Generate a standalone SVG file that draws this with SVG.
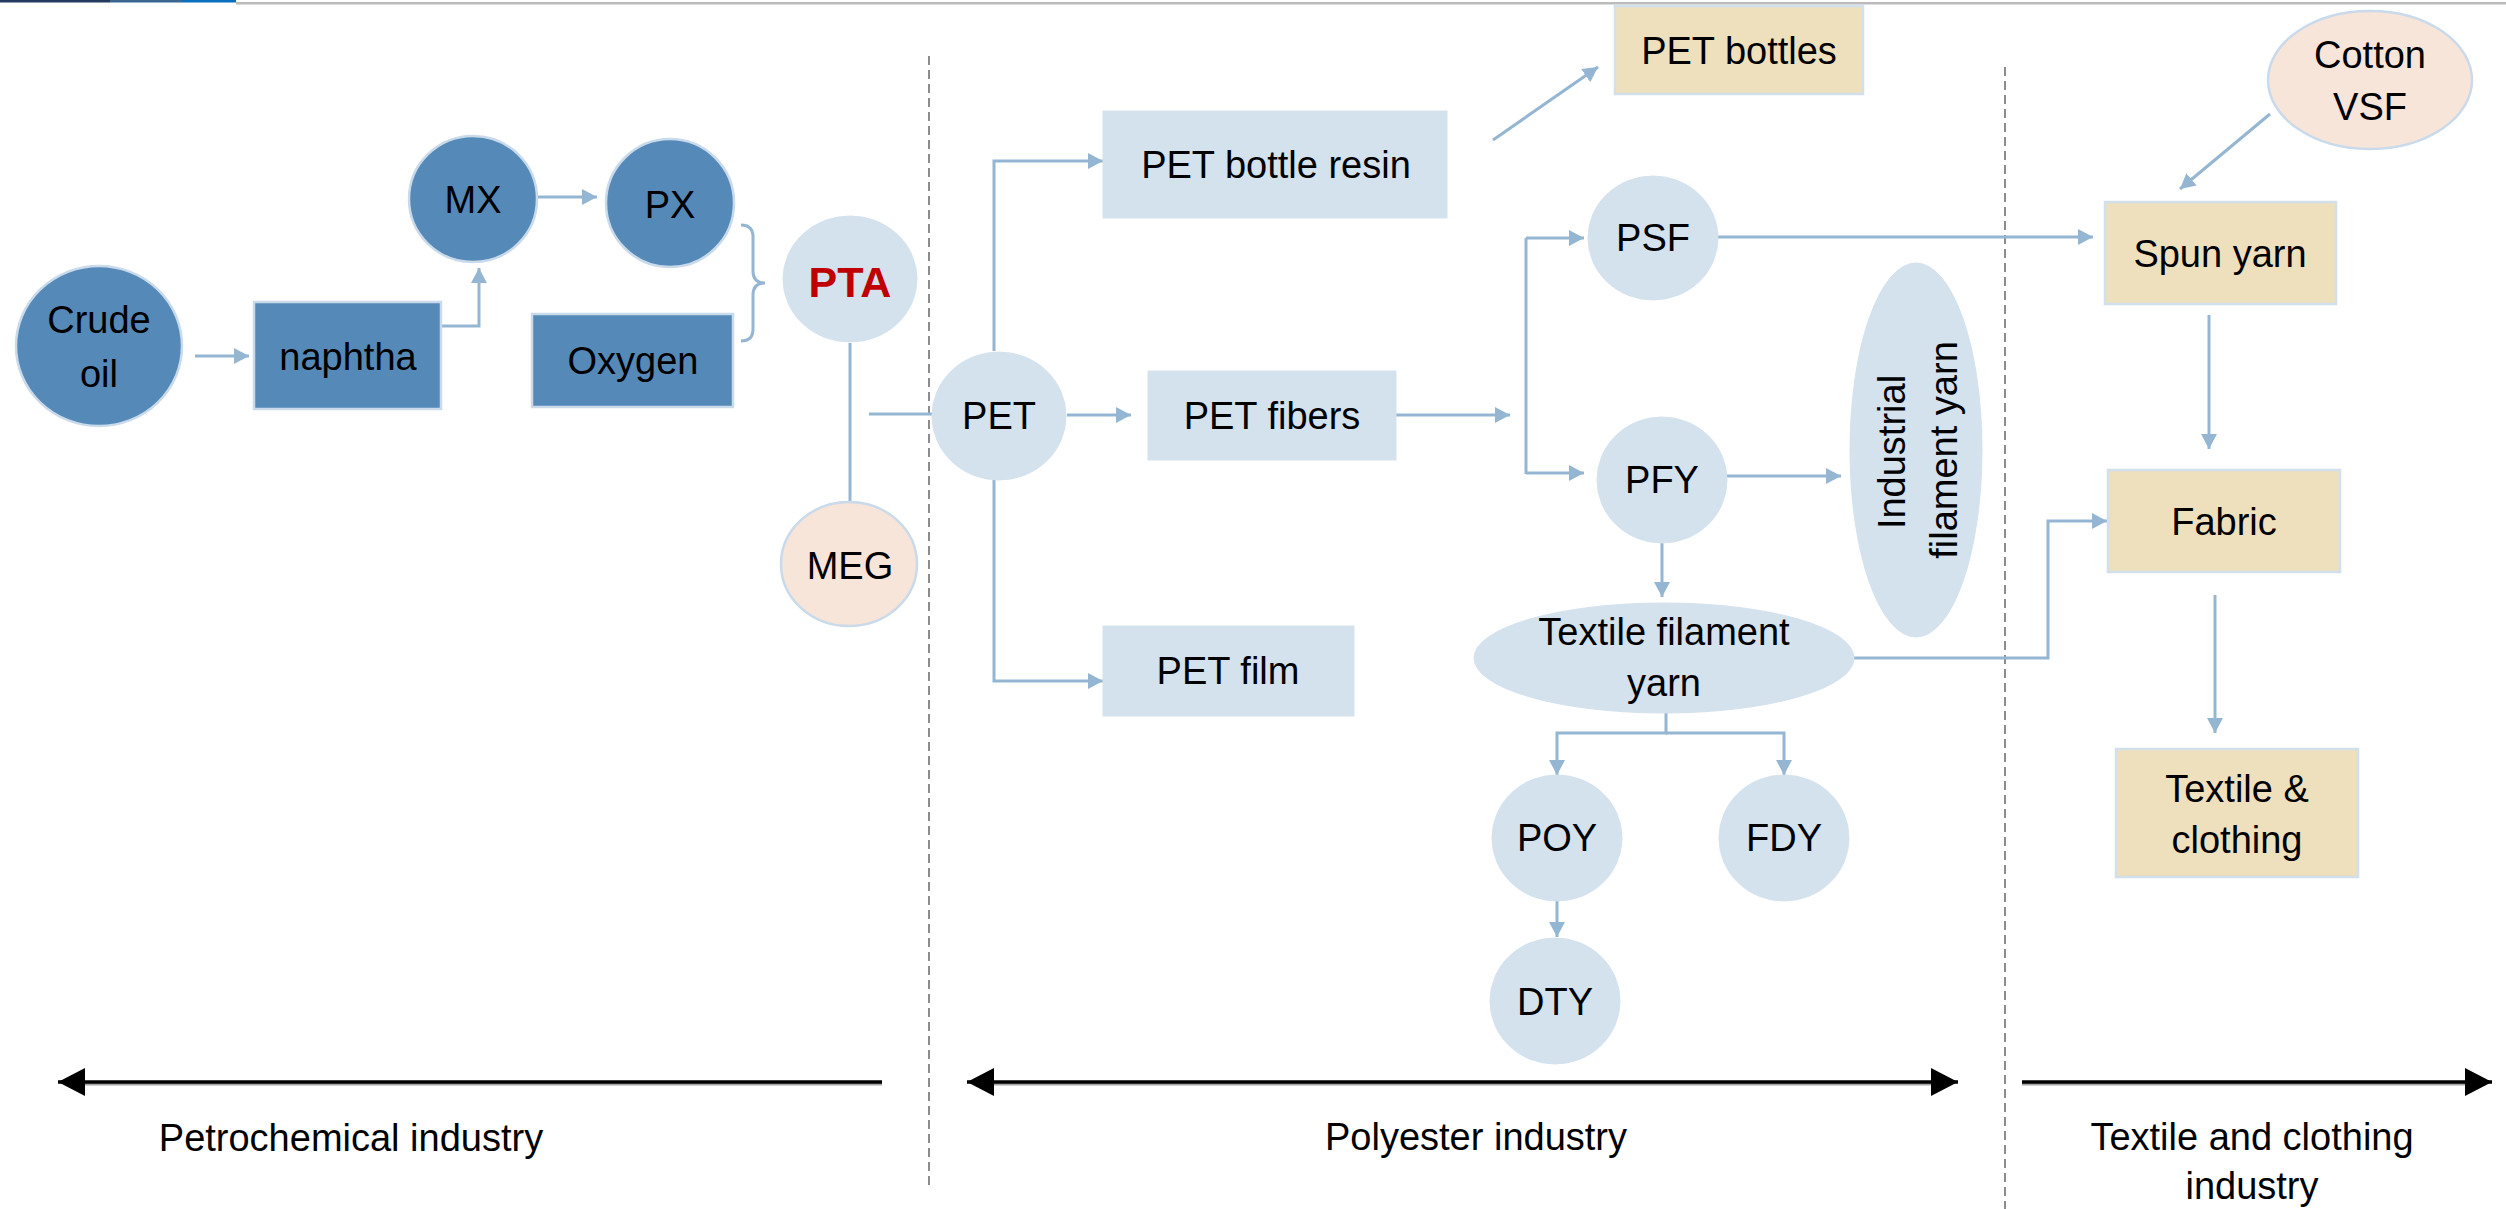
<svg xmlns="http://www.w3.org/2000/svg" width="2506" height="1209" viewBox="0 0 2506 1209">
<style>
text{font-family:"Liberation Sans",Arial,sans-serif;font-size:38px;fill:#000;text-anchor:middle}
.dk{fill:#5589B8;stroke:#C9DAEB;stroke-width:2.5}
.lt{fill:#D4E2EE;stroke:#D4E2EE;stroke-width:1}
.pe{fill:#F7E5DA;stroke:#C9DAEB;stroke-width:2.5}
.tn{fill:#EEDFBD;stroke:#D2E0EC;stroke-width:2.5}
.c{fill:none;stroke:#94B6D3;stroke-width:3}
.a{marker-end:url(#ah)}
.sep{stroke:#8C8C8C;stroke-width:2;stroke-dasharray:9 5}
.bk{stroke:#000;stroke-width:3.5}
.sh{stroke:#A6A6A6;stroke-width:3}
</style>
<defs>
<marker id="ah" markerUnits="userSpaceOnUse" markerWidth="16" markerHeight="18" refX="15" refY="8" orient="auto"><path d="M0,0 L15,8 L0,16 z" fill="#94B6D3"/></marker>
<marker id="bh" markerUnits="userSpaceOnUse" markerWidth="28" markerHeight="30" refX="27" refY="14" orient="auto-start-reverse"><path d="M0,0 L27,14 L0,28 z" fill="#000"/></marker>
</defs>
<rect x="0" y="0" width="2506" height="1209" fill="#fff"/>
<g id="topbar">
<rect x="236" y="2" width="2270" height="2.5" fill="#BBBBBB"/>
<rect x="0" y="0" width="110" height="2.5" fill="#243A5E"/>
<rect x="110" y="0" width="72" height="2.5" fill="#3A6791"/>
<rect x="182" y="0" width="54" height="2.5" fill="#0B6FC0"/>
</g>
<g id="separators">
<line class="sep" x1="929" y1="56" x2="929" y2="1186"/>
<line class="sep" x1="2005" y1="67" x2="2005" y2="1209"/>
</g>
<g id="connectors">
<path class="c a" d="M195,356 H249"/>
<path class="c a" d="M441,326 H479 V268"/>
<path class="c a" d="M537,197 H597"/>
<path class="c" d="M741,225 Q753,225 753,237 V271 Q753,283 765,283 Q753,283 753,295 V329 Q753,341 741,341"/>
<path class="c" d="M850,343 V502"/>
<path class="c" d="M869,414 H932"/>
<path class="c a" d="M994,351 V161 H1103"/>
<path class="c a" d="M994,480 V681 H1103"/>
<path class="c a" d="M1067,415 H1131"/>
<path class="c a" d="M1493,140 L1598,67"/>
<path class="c a" d="M1396,415 H1510"/>
<path class="c" d="M1526,238 V474"/>
<path class="c a" d="M1526,238 H1584"/>
<path class="c a" d="M1526,473 H1584"/>
<path class="c a" d="M1718,237 H2093"/>
<path class="c a" d="M1727,476 H1841"/>
<path class="c a" d="M1662,543 V597"/>
<path class="c a" d="M1854,658 H2048 V521 H2107"/>
<path class="c a" d="M1666,713 V733 H1557 V775"/>
<path class="c a" d="M1666,733 H1784 V775"/>
<path class="c a" d="M1557,900 V937"/>
<path class="c a" d="M2270,114 L2180,189"/>
<path class="c a" d="M2209,315 V449"/>
<path class="c a" d="M2215,595 V733"/>
</g>
<g id="crude-oil"><ellipse class="dk" cx="99" cy="346" rx="83" ry="80"/><text x="99" y="333">Crude</text><text x="99" y="387">oil</text></g>
<g id="naphtha"><rect class="dk" x="254" y="302" width="187" height="107"/><text x="348" y="370">naphtha</text></g>
<g id="mx"><ellipse class="dk" cx="473" cy="199" rx="64" ry="63"/><text x="473" y="213">MX</text></g>
<g id="px"><ellipse class="dk" cx="670" cy="203" rx="64" ry="64"/><text x="670" y="218">PX</text></g>
<g id="oxygen"><rect class="dk" x="532" y="314" width="201" height="93"/><text x="633" y="374">Oxygen</text></g>
<g id="pta"><ellipse class="lt" cx="850" cy="279" rx="67" ry="63"/><text x="850" y="297" style="font-weight:bold;fill:#C00000;font-size:43px">PTA</text></g>
<g id="meg"><ellipse class="pe" cx="849" cy="564" rx="68" ry="62"/><text x="850" y="579">MEG</text></g>
<g id="pet"><ellipse class="lt" cx="999" cy="416" rx="67" ry="64"/><text x="999" y="429">PET</text></g>
<g id="pet-bottle-resin"><rect class="lt" x="1103" y="111" width="344" height="107"/><text x="1276" y="178">PET bottle resin</text></g>
<g id="pet-fibers"><rect class="lt" x="1148" y="371" width="248" height="89"/><text x="1272" y="429">PET fibers</text></g>
<g id="pet-film"><rect class="lt" x="1103" y="626" width="251" height="90"/><text x="1228" y="684">PET film</text></g>
<g id="pet-bottles"><rect class="tn" x="1615" y="6" width="248" height="88"/><text x="1739" y="64">PET bottles</text></g>
<g id="psf"><ellipse class="lt" cx="1653" cy="238" rx="65" ry="62"/><text x="1653" y="251">PSF</text></g>
<g id="pfy"><ellipse class="lt" cx="1662" cy="480" rx="65" ry="63"/><text x="1662" y="493">PFY</text></g>
<g id="industrial-filament-yarn"><ellipse class="lt" cx="1916" cy="450" rx="66" ry="187"/><text transform="translate(1905,452) rotate(-90)">Industrial</text><text transform="translate(1957,450) rotate(-90)">filament yarn</text></g>
<g id="textile-filament-yarn"><ellipse class="lt" cx="1664" cy="658" rx="190" ry="55"/><text x="1664" y="645">Textile filament</text><text x="1664" y="696">yarn</text></g>
<g id="poy"><ellipse class="lt" cx="1557" cy="838" rx="65" ry="63"/><text x="1557" y="851">POY</text></g>
<g id="fdy"><ellipse class="lt" cx="1784" cy="838" rx="65" ry="63"/><text x="1784" y="851">FDY</text></g>
<g id="dty"><ellipse class="lt" cx="1555" cy="1001" rx="65" ry="63"/><text x="1555" y="1015">DTY</text></g>
<g id="cotton-vsf"><ellipse class="pe" cx="2370" cy="80" rx="102" ry="69"/><text x="2370" y="68">Cotton</text><text x="2370" y="120">VSF</text></g>
<g id="spun-yarn"><rect class="tn" x="2105" y="202" width="231" height="102"/><text x="2220" y="267">Spun yarn</text></g>
<g id="fabric"><rect class="tn" x="2108" y="470" width="232" height="102"/><text x="2224" y="535">Fabric</text></g>
<g id="textile-clothing"><rect class="tn" x="2116" y="749" width="242" height="128"/><text x="2237" y="802">Textile &amp;</text><text x="2237" y="853">clothing</text></g>
<g id="industry-arrows">
<line class="sh" x1="70" y1="1084" x2="882" y2="1084"/>
<line class="bk" x1="882" y1="1082" x2="58" y2="1082" marker-end="url(#bh)"/>
<line class="sh" x1="980" y1="1084" x2="1945" y2="1084"/>
<line class="bk" x1="967" y1="1082" x2="1958" y2="1082" marker-start="url(#bh)" marker-end="url(#bh)"/>
<line class="sh" x1="2022" y1="1084" x2="2480" y2="1084"/>
<line class="bk" x1="2022" y1="1082" x2="2492" y2="1082" marker-end="url(#bh)"/>
</g>
<g id="industry-labels">
<text x="351" y="1151">Petrochemical industry</text>
<text x="1476" y="1150">Polyester industry</text>
<text x="2252" y="1150">Textile and clothing</text>
<text x="2252" y="1199">industry</text>
</g>
</svg>
